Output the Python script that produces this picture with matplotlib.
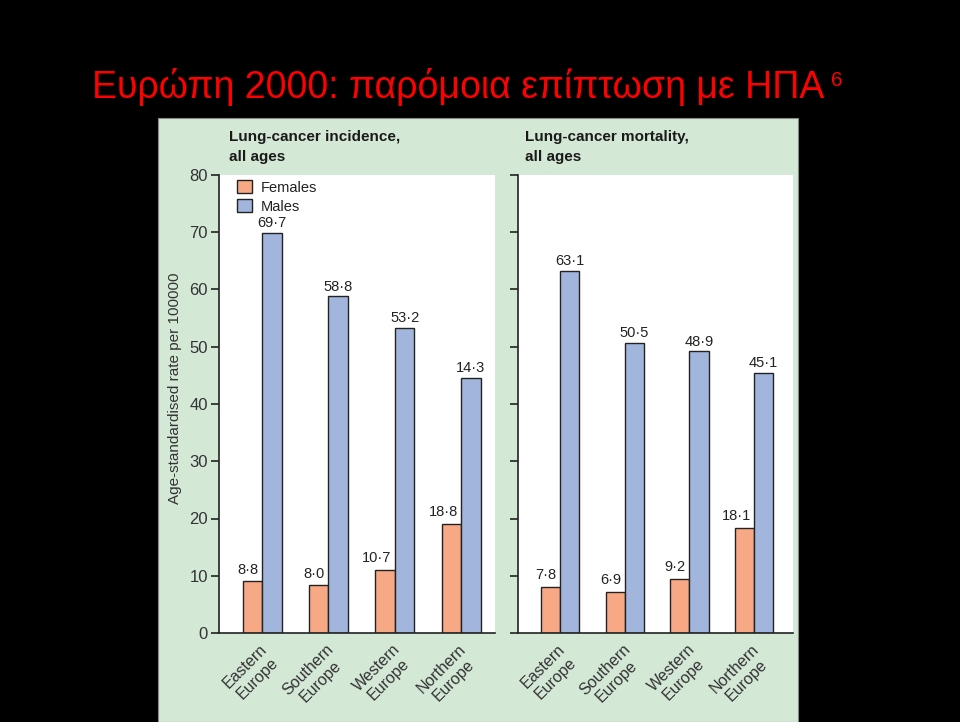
import matplotlib

matplotlib.use("Agg")
import matplotlib.pyplot as plt
import matplotlib.transforms as mtransforms
from matplotlib.patches import Patch, Rectangle

# Data (bar heights as drawn, labels as printed)
regions = ["Eastern\nEurope", "Southern\nEurope", "Western\nEurope", "Northern\nEurope"]

incid_females = [9.0, 8.3, 11.0, 19.1]
incid_males = [69.9, 58.8, 53.3, 44.5]
incid_female_labels = ["8·8", "8·0", "10·7", "18·8"]
incid_male_labels = ["69·7", "58·8", "53·2", "14·3"]

mort_females = [8.1, 7.2, 9.4, 18.3]
mort_males = [63.2, 50.7, 49.2, 45.4]
mort_female_labels = ["7·8", "6·9", "9·2", "18·1"]
mort_male_labels = ["63·1", "50·5", "48·9", "45·1"]

yticks = [0, 10, 20, 30, 40, 50, 60, 70, 80]

FEMALE = "#f7a986"
MALE = "#a2b5dc"
GREEN = "#d4e8d6"
INK = "#222222"
W, H = 960, 722

plt.rcParams["font.family"] = ["Liberation Sans", "DejaVu Sans"]

fig = plt.figure(figsize=(W / 100, H / 100), dpi=100, facecolor="black")


def px(x0, y0, x1, y1):
    # pixel box (from top-left) -> figure fraction rect
    return [x0 / W, (H - y1) / H, (x1 - x0) / W, (y1 - y0) / H]


fig.patches.append(
    Rectangle((158 / W, 0), (798 - 158) / W, (722 - 118) / H,
              transform=fig.transFigure, facecolor=GREEN, edgecolor="#888888",
              linewidth=0.8, zorder=-5)
)

fig.text(92 / W, (H - 98) / H, "Ευρώπη 2000: παρόμοια επίπτωση με ΗΠΑ",
         color="#ff0000", fontsize=27, ha="left", va="baseline")
fig.text(831 / W, (H - 86) / H, "6", color="#ff0000", fontsize=15,
         ha="left", va="baseline")


def panel(rect, xlim, title, title_x, females, males, flabels, mlabels, show_ylabels):
    ax = fig.add_axes(px(*rect))
    ax.set_facecolor("white")
    x = list(range(len(regions)))
    bw = 0.295
    bf = ax.bar([i - bw / 2 for i in x], females, bw, color=FEMALE,
                edgecolor=INK, linewidth=1.0, label="Females", zorder=2)
    bm = ax.bar([i + bw / 2 for i in x], males, bw, color=MALE,
                edgecolor=INK, linewidth=1.0, label="Males", zorder=2)
    for r, t in zip(bf, flabels):
        ax.annotate(t, (r.get_x() + r.get_width(), r.get_height()),
                    xytext=(-2.5, 3.5), textcoords="offset points",
                    ha="right", va="bottom", fontsize=10.5, color=INK)
    for r, t in zip(bm, mlabels):
        ax.annotate(t, (r.get_x() + r.get_width() / 2, r.get_height()),
                    xytext=(0, 2), textcoords="offset points",
                    ha="center", va="bottom", fontsize=10.5, color=INK)

    ax.set_xlim(*xlim)
    ax.set_ylim(0, 80)
    ax.set_yticks(yticks)
    if not show_ylabels:
        ax.set_yticklabels([])
    ax.tick_params(axis="y", direction="out", length=6, width=1.2,
                   color=INK, labelsize=12, labelcolor="#333333", pad=2)
    ax.set_xticks(x)
    ax.set_xticklabels(regions, rotation=45, ha="right", va="top",
                       multialignment="center", fontsize=11.5, color="#333333",
                       linespacing=1.15)
    ax.tick_params(axis="x", length=0, pad=6)
    offset = mtransforms.ScaledTranslation(20 / 100, 0, fig.dpi_scale_trans)
    for lab in ax.get_xticklabels():
        lab.set_transform(lab.get_transform() + offset)
    for s in ("top", "right"):
        ax.spines[s].set_visible(False)
    for s in ("left", "bottom"):
        ax.spines[s].set_color(INK)
        ax.spines[s].set_linewidth(1.2)

    fig.text(title_x / W, (H - 141) / H, title, fontsize=11, fontweight="bold",
             color="#1a1a1a", ha="left", va="baseline")
    fig.text(title_x / W, (H - 161) / H, "all ages", fontsize=11, fontweight="bold",
             color="#1a1a1a", ha="left", va="baseline")
    return ax


ax1 = panel((219, 175, 495, 633), (-0.65, 3.51),
            "Lung-cancer incidence,", 229,
            incid_females, incid_males, incid_female_labels, incid_male_labels, True)

ax2 = panel((518, 175, 793, 633), (-0.65, 3.60),
            "Lung-cancer mortality,", 525,
            mort_females, mort_males, mort_female_labels, mort_male_labels, False)

ax1.legend(handles=[Patch(facecolor=FEMALE, edgecolor=INK, label="Females"),
                    Patch(facecolor=MALE, edgecolor=INK, label="Males")],
           loc="upper left", bbox_to_anchor=(0.055, 0.995), frameon=False,
           fontsize=10.5, handlelength=1.0, handleheight=1.0, handletextpad=0.6,
           labelspacing=0.3, borderaxespad=0, borderpad=0.2,
           labelcolor="#222222")

fig.text(175 / W, (H - 388) / H, "Age-standardised rate per 100000",
         rotation=90, fontsize=11, color="#333333", ha="center", va="center")

fig.savefig("out.png", dpi=100, facecolor="black")
